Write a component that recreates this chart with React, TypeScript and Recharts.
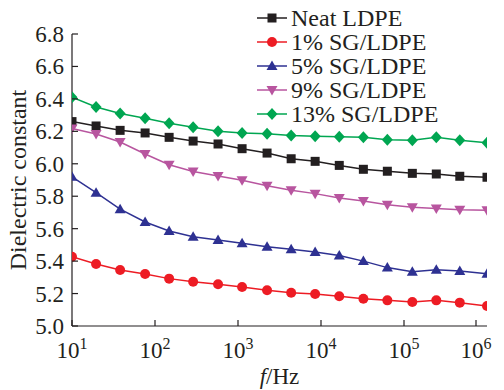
import React from "react";
import { Label, Legend, Line, LineChart, XAxis, YAxis } from "recharts";

const FONT = "'Liberation Serif', 'Times New Roman', serif";
const INK = "#231f20";

// frequency points (Hz)
const freqs = [
  10, 19.5, 38, 76, 148, 288, 575, 1120, 2240, 4370, 8500, 16600, 32400, 63000, 126000, 245000,
  470000, 1000000
];

const neat = [
  6.26, 6.233, 6.206, 6.19, 6.163, 6.14, 6.122, 6.093, 6.066, 6.031, 6.015, 5.99, 5.966, 5.954,
  5.941, 5.937, 5.923, 5.917
];
const sg1 = [
  5.427, 5.382, 5.345, 5.32, 5.292, 5.273, 5.257, 5.24, 5.22, 5.205, 5.197, 5.183, 5.168, 5.158,
  5.148, 5.158, 5.144, 5.123
];
const sg5 = [
  5.92, 5.822, 5.72, 5.641, 5.586, 5.55, 5.53, 5.51, 5.489, 5.473, 5.456, 5.435, 5.4, 5.36, 5.335,
  5.347, 5.339, 5.322
];
const sg9 = [
  6.218, 6.183, 6.134, 6.06, 5.994, 5.953, 5.925, 5.898, 5.865, 5.837, 5.816, 5.789, 5.77, 5.748,
  5.732, 5.725, 5.717, 5.713
];
const sg13 = [
  6.41, 6.35, 6.31, 6.28, 6.25, 6.225, 6.2, 6.19, 6.185, 6.175, 6.17, 6.167, 6.163, 6.148, 6.145,
  6.163, 6.145, 6.13
];

const xTicks = [10, 100, 1000, 10000, 100000, 1000000];
const yTicks = [5.0, 5.2, 5.4, 5.6, 5.8, 6.0, 6.2, 6.4, 6.6, 6.8];

type Shape = "square" | "circle" | "up" | "down" | "diamond";

const series: { key: string; name: string; color: string; shape: Shape }[] = [
  { key: "neat", name: "Neat LDPE", color: INK, shape: "square" },
  { key: "sg1", name: "1% SG/LDPE", color: "#ed1c24", shape: "circle" },
  { key: "sg5", name: "5% SG/LDPE", color: "#2e3192", shape: "up" },
  { key: "sg9", name: "9% SG/LDPE", color: "#b8559f", shape: "down" },
  { key: "sg13", name: "13% SG/LDPE", color: "#00a651", shape: "diamond" }
];

const data = freqs.map((f, i) => ({
  f,
  neat: neat[i],
  sg1: sg1[i],
  sg5: sg5[i],
  sg9: sg9[i],
  sg13: sg13[i]
}));

function marker(shape: Shape, cx: number, cy: number, color: string, key?: string | number) {
  if (shape === "square")
    return <rect key={key} x={cx - 4.5} y={cy - 4.5} width={9} height={9} fill={color} />;
  if (shape === "circle") return <circle key={key} cx={cx} cy={cy} r={5} fill={color} />;
  if (shape === "up")
    return (
      <polygon key={key} points={`${cx},${cy - 5.5} ${cx + 5.5},${cy + 4} ${cx - 5.5},${cy + 4}`} fill={color} />
    );
  if (shape === "down")
    return (
      <polygon key={key} points={`${cx},${cy + 5.5} ${cx + 5.5},${cy - 4} ${cx - 5.5},${cy - 4}`} fill={color} />
    );
  return (
    <polygon
      key={key}
      points={`${cx},${cy - 6} ${cx + 5.5},${cy} ${cx},${cy + 6} ${cx - 5.5},${cy}`}
      fill={color}
    />
  );
}

function XTick({ x, y, payload }: any) {
  const exp = Math.round(Math.log10(payload.value));
  return (
    <g>
      <line x1={x} x2={x} y1={y} y2={y - 6} stroke={INK} strokeWidth={1.2} />
      <text x={x} y={y + 32} textAnchor="middle" fontFamily={FONT} fontSize={23} fill={INK}>
        10
        <tspan dy={-9} fontSize={16}>
          {exp}
        </tspan>
      </text>
    </g>
  );
}

function YTick({ x, y, payload }: any) {
  return (
    <g>
      <line x1={x} x2={x + 6} y1={y} y2={y} stroke={INK} strokeWidth={1.2} />
      <text x={x - 8} y={y} dy="0.35em" textAnchor="end" fontFamily={FONT} fontSize={23} fill={INK}>
        {payload.value.toFixed(1)}
      </text>
    </g>
  );
}

function LegendBox() {
  return (
    <div style={{ fontFamily: FONT, fontSize: 24, color: INK, lineHeight: "24px" }}>
      {series.map((s) => (
        <div key={s.key} style={{ display: "flex", alignItems: "center", height: 24 }}>
          <svg width={36} height={24}>
            <line x1={2} x2={32} y1={12} y2={12} stroke={s.color} strokeWidth={1.5} />
            {marker(s.shape, 17, 12, s.color)}
          </svg>
          <span style={{ whiteSpace: "nowrap" }}>{s.name}</span>
        </div>
      ))}
    </div>
  );
}

export default function App() {
  return (
    <div style={{ position: "absolute", left: 0, top: 0, background: "#fff" }}>
      <LineChart width={504} height={390} data={data} margin={{ top: 34, right: 17, bottom: 0, left: 0 }}>
        <XAxis
          type="number"
          dataKey="f"
          scale="log"
          domain={[10, 1000000]}
          ticks={xTicks}
          height={64}
          tickSize={0}
          tickMargin={0}
          tickLine={false}
          tick={<XTick />}
          stroke={INK}
          strokeWidth={1.2}
          allowDataOverflow
        >
          <Label
            content={({ viewBox }: any) => (
              <text
                x={viewBox.x + viewBox.width / 2}
                y={384}
                textAnchor="middle"
                fontFamily={FONT}
                fontSize={23}
                fill={INK}
              >
                <tspan fontStyle="italic">f</tspan>/Hz
              </text>
            )}
          />
        </XAxis>
        <YAxis
          type="number"
          domain={[5.0, 6.8]}
          ticks={yTicks}
          interval={0}
          width={72}
          tickSize={0}
          tickMargin={0}
          tickLine={false}
          tick={<YTick />}
          stroke={INK}
          strokeWidth={1.2}
          allowDataOverflow
        >
          <Label
            content={({ viewBox }: any) => (
              <text
                x={18}
                y={viewBox.y + viewBox.height / 2}
                transform={`rotate(-90 18 ${viewBox.y + viewBox.height / 2})`}
                textAnchor="middle"
                dominantBaseline="central"
                fontFamily={FONT}
                fontSize={24}
                fill={INK}
              >
                Dielectric constant
              </text>
            )}
          />
        </YAxis>
        <Legend
          layout="vertical"
          align="center"
          verticalAlign="middle"
          content={<LegendBox />}
          wrapperStyle={{ position: "absolute", left: 255, top: 6, width: "auto" }}
        />
        {series.map((s) => (
          <Line
            key={s.key}
            type="linear"
            dataKey={s.key}
            name={s.name}
            stroke={s.color}
            strokeWidth={1.5}
            isAnimationActive={false}
            dot={(p: any) => marker(s.shape, p.cx, p.cy, s.color, `${s.key}-${p.index}`)}
            activeDot={false}
          />
        ))}
      </LineChart>
    </div>
  );
}
